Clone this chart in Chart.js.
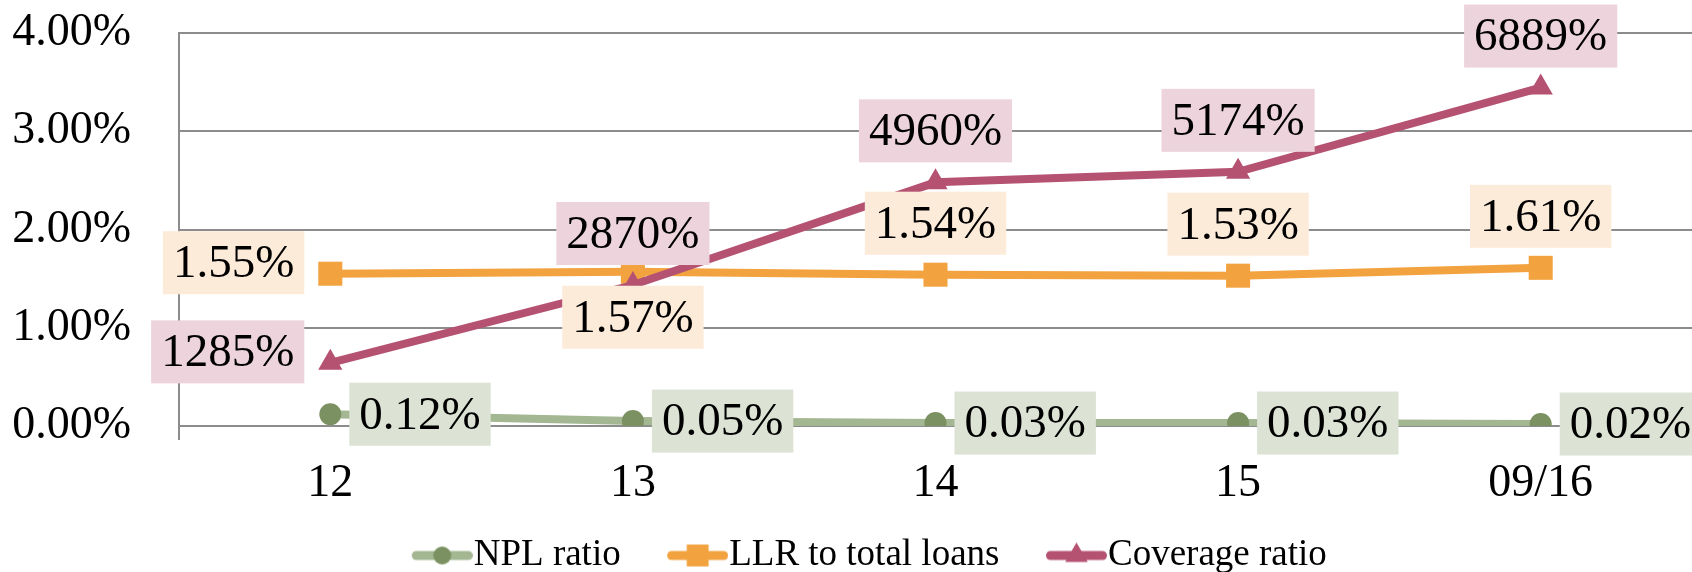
<!DOCTYPE html>
<html>
<head>
<meta charset="utf-8">
<script src="https://cdn.jsdelivr.net/npm/chart.js"></script>
<style>
  html, body { margin: 0; padding: 0; background: #fff; overflow: hidden; }
  #wrap { width: 1692px; height: 572px; position: relative; }
  canvas { display: block; }
</style>
</head>
<body>
<div id="wrap"><canvas id="ratios"></canvas></div>
<script>
// Asset quality ratios by year
const periods = ['12', '13', '14', '15', '09/16'];
const nplRatio = [0.12, 0.05, 0.03, 0.03, 0.02];
const llrRatio = [1.55, 1.57, 1.54, 1.53, 1.61];
const coverageRatio = [1285, 2870, 4960, 5174, 6889];
const seriesNames = ['NPL ratio', 'LLR to total loans', 'Coverage ratio'];
const leftTicks = [0, 1, 2, 3, 4];

const FONT = '"Liberation Serif", "Times New Roman", serif';
const GRID = '#8C8C8C';

// label look per series: where the box sits, colour, how the value is written
const labelStyle = [
    { pos: ['right', 'right', 'right', 'right', 'right'], bg: '#DCE2D4', fmt: v => v.toFixed(2) + '%' },
    { pos: ['left', 'below', 'above', 'above', 'above'], bg: '#FDEBDA', fmt: v => v.toFixed(2) + '%' },
    { pos: ['left', 'above', 'above', 'above', 'above'], bg: '#ECD3DC', fmt: v => v + '%' }
];

// Excel-like data labels with a filled box
const boxLabels = {
    id: 'boxLabels',
    afterDatasetsDraw(chart) {
        const ctx = chart.ctx;
        ctx.save();
        ctx.font = '47px ' + FONT;
        ctx.textAlign = 'center';
        ctx.textBaseline = 'middle';
        chart.data.datasets.forEach((ds, i) => {
            const st = labelStyle[i];
            chart.getDatasetMeta(i).data.forEach((pt, j) => {
                const text = st.fmt(ds.data[j]);
                const w = ctx.measureText(text).width + 20;
                const h = 63;
                let cx = pt.x, cy = pt.y;
                switch (st.pos[j]) {
                    case 'right': cx = pt.x + 19 + w / 2; break;
                    case 'left': cx = pt.x - 26 - w / 2; cy = pt.y - 11; break;
                    case 'above': cy = pt.y - 20 - h / 2; break;
                    case 'below': cy = pt.y + 14 + h / 2; break;
                }
                ctx.fillStyle = st.bg;
                ctx.fillRect(cx - w / 2, cy - h / 2, w, h);
                ctx.fillStyle = '#000';
                ctx.fillText(text, cx, cy + 2);
            });
        });
        ctx.restore();
    }
};

// legend icon: short line with the marker on it, pushed to the right of a wider canvas
function legendIcon(lineColor, markColor, style, r) {
    const W = 125, vis = 61, H = 34;
    const c = document.createElement('canvas');
    c.width = W;
    c.height = H;
    const g = c.getContext('2d');
    g.strokeStyle = lineColor;
    g.lineWidth = 9;
    g.lineCap = 'round';
    g.beginPath();
    g.moveTo(W - vis + 4.5, H / 2);
    g.lineTo(W - 4.5, H / 2);
    g.stroke();
    g.fillStyle = markColor;
    g.strokeStyle = markColor;
    Chart.helpers.drawPoint(g, { pointStyle: style, radius: r, borderWidth: 0 }, W - vis / 2, H / 2);
    return c;
}

const icons = [
    legendIcon('#A3B792', '#7B9161', 'circle', 9),
    legendIcon('#F2A33F', '#F2A33F', 'rect', 15.5),
    legendIcon('#B55272', '#B55272', 'triangle', 13)
];

new Chart(document.getElementById('ratios'), {
    type: 'line',
    data: {
        labels: periods,
        datasets: [
            {
                label: seriesNames[0],
                data: nplRatio,
                yAxisID: 'y',
                borderColor: '#A3B792',
                borderWidth: 8,
                pointStyle: 'circle',
                pointRadius: 11,
                pointBackgroundColor: '#7B9161',
                pointBorderWidth: 0,
                order: 3
            },
            {
                label: seriesNames[1],
                data: llrRatio,
                yAxisID: 'y',
                borderColor: '#F2A33F',
                borderWidth: 8,
                pointStyle: 'rect',
                pointRadius: 17,
                pointBackgroundColor: '#F2A33F',
                pointBorderWidth: 0,
                order: 2
            },
            {
                label: seriesNames[2],
                data: coverageRatio,
                yAxisID: 'y2',
                borderColor: '#B55272',
                borderWidth: 8,
                pointStyle: 'triangle',
                pointRadius: 14,
                pointBackgroundColor: '#B55272',
                pointBorderWidth: 0,
                order: 1
            }
        ]
    },
    options: {
        responsive: true,
        maintainAspectRatio: false,
        animation: false,
        events: [],
        layout: { autoPadding: false, padding: { top: 33, left: 0, right: 0, bottom: -12 } },
        scales: {
            x: {
                offset: true,
                // only the first boundary tick is shown, continuing the value axis below zero
                grid: {
                    offset: true,
                    drawOnChartArea: false,
                    drawTicks: true,
                    tickLength: 14,
                    lineWidth: 2,
                    color: c => (c.index === 0 ? GRID : 'rgba(0,0,0,0)')
                },
                border: { display: false },
                ticks: { color: '#000', font: { family: FONT, size: 46 }, padding: 16 },
                afterFit(scale) {
                    scale.height = 111;
                    scale.paddingLeft = 0;
                    scale.paddingRight = 0;
                }
            },
            y: {
                min: 0,
                max: 4,
                afterBuildTicks(scale) { scale.ticks = leftTicks.map(v => ({ value: v })); },
                grid: { color: GRID, lineWidth: 2, drawTicks: false },
                border: { display: true, color: GRID, width: 2 },
                ticks: {
                    color: '#000',
                    font: { family: FONT, size: 46 },
                    padding: 48,
                    callback: v => v.toFixed(2) + '%'
                },
                afterFit(scale) {
                    scale.width = 179;
                    scale.paddingTop = 0;
                    scale.paddingBottom = 0;
                }
            },
            y2: {
                min: 0,
                max: 8000,
                display: false
            }
        },
        plugins: {
            tooltip: { enabled: false },
            legend: {
                position: 'bottom',
                labels: {
                    color: '#000',
                    font: { family: FONT, size: 37 },
                    usePointStyle: true,
                    pointStyleWidth: 90,
                    padding: 0,
                    generateLabels(chart) {
                        return chart.data.datasets.map((ds, i) => ({
                            text: ds.label,
                            pointStyle: icons[i],
                            fillStyle: ds.borderColor,
                            strokeStyle: ds.borderColor,
                            lineWidth: 0,
                            hidden: false,
                            datasetIndex: i,
                            fontColor: '#000'
                        }));
                    }
                }
            }
        }
    },
    plugins: [boxLabels]
});
</script>
</body>
</html>
